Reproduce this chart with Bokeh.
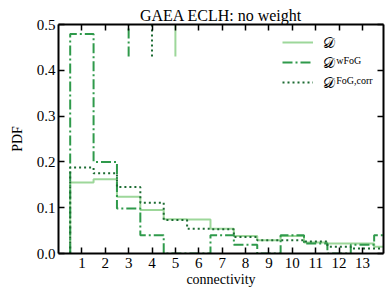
import numpy as np
from bokeh.plotting import figure
from bokeh.models import (Range1d, FixedTicker, PrintfTickFormatter, LinearAxis,
                          Legend, LegendItem, Label)
from bokeh.embed import file_html
from bokeh.resources import INLINE

# ---- data ----
connectivity = list(range(1, 15))
pdf_D = [0.155, 0.162, 0.124, 0.095, 0.075, 0.074, 0.054, 0.038, 0.029, 0.038, 0.024, 0.022, 0.022, 0.015]
pdf_wFoG = [0.479, 0.200, 0.098, 0.040, 0.0, 0.0, 0.040, 0.019, 0.0, 0.040, 0.022, 0.0, 0.019, 0.040]
pdf_FoGcorr = [0.188, 0.175, 0.145, 0.111, 0.073, 0.054, 0.053, 0.036, 0.029, 0.029, 0.026, 0.015, 0.011, 0.011]
marker_D = [5]
marker_wFoG = [3]
marker_FoGcorr = [4]
x_ticks = list(range(1, 14))
y_ticks = [0.0, 0.1, 0.2, 0.3, 0.4, 0.5]
title_text = "GAEA ECLH: no weight"
x_label = "connectivity"
y_label = "PDF"
legend_base = "\U0001D49F"
legend_supers = ["", "wFoG", "FoG,corr"]

col_D = "#9dd79a"
col_w = "#2f9a4b"
col_c = "#1c6b32"
SERIF = "Liberation Serif"

W, H = 389, 292
B_LEFT, B_RIGHT, B_TOP, B_BOTTOM = 58, 6, 24, 39
FH = H - B_TOP - B_BOTTOM
FW = W - B_LEFT - B_RIGHT


def step_xy(centers, vals):
    xs = [centers[0] - 0.5]
    ys = [0.0]
    for c, v in zip(centers, vals):
        xs += [c - 0.5, c + 0.5]
        ys += [v, v]
    xs.append(centers[-1] + 0.5)
    ys.append(0.0)
    return xs, ys


p = figure(width=W, height=H, x_range=Range1d(0, 13.9), y_range=Range1d(0, 0.5),
           output_backend="svg", toolbar_location=None, title=title_text,
           min_border_left=B_LEFT, min_border_right=B_RIGHT, min_border_top=B_TOP,
           min_border_bottom=B_BOTTOM)
p.grid.visible = False
p.outline_line_color = None
p.background_fill_color = "white"
p.border_fill_color = "white"

p.title.text_font = SERIF
p.title.text_font_size = "16px"
p.title.text_font_style = "normal"
p.title.text_color = "black"
p.title.align = "center"
p.title.standoff = 2

dash_w = "10 3 2 3"
dash_c = "2 3"

xs, ys = step_xy(connectivity, pdf_D)
rD = p.line(xs, ys, line_color=col_D, line_width=2)
xs, ys = step_xy(connectivity, pdf_wFoG)
rW = p.line(xs, ys, line_color=col_w, line_width=2, line_dash=dash_w)
xs, ys = step_xy(connectivity, pdf_FoGcorr)
rC = p.line(xs, ys, line_color=col_c, line_width=2, line_dash=dash_c)

p.segment(x0=marker_D, y0=[0.43], x1=marker_D, y1=[0.5], line_color=col_D, line_width=2)
p.segment(x0=marker_wFoG, y0=[0.43], x1=marker_wFoG, y1=[0.5], line_color=col_w, line_width=2,
          line_dash=dash_w)
p.segment(x0=marker_FoGcorr, y0=[0.43], x1=marker_FoGcorr, y1=[0.5], line_color=col_c,
          line_width=2, line_dash=dash_c)


def style_axis(ax, ticks, labels=True):
    ax.ticker = FixedTicker(ticks=ticks)
    ax.major_tick_in = 6
    ax.major_tick_out = 0
    ax.minor_tick_in = 0
    ax.minor_tick_out = 0
    ax.axis_line_width = 2
    ax.axis_line_color = "black"
    ax.major_tick_line_width = 1.5
    ax.major_tick_line_color = "black"
    ax.major_label_text_font = SERIF
    ax.major_label_text_color = "black"
    ax.major_label_text_font_size = "15px"
    ax.axis_label_text_font = SERIF
    ax.axis_label_text_font_style = "normal"
    ax.axis_label_text_font_size = "14px"
    ax.axis_label_text_color = "black"
    if not labels:
        ax.major_label_overrides = {t: "" for t in ticks}
        ax.major_label_standoff = 0


xa = p.xaxis[0]
style_axis(xa, x_ticks)
xa.axis_label = x_label
xa.major_label_standoff = 4
xa.axis_label_standoff = 1

ya = p.yaxis[0]
style_axis(ya, y_ticks)
ya.formatter = PrintfTickFormatter(format="%.1f")
ya.axis_label = y_label
ya.major_label_standoff = 3
ya.axis_label_standoff = 9

top = LinearAxis()
style_axis(top, x_ticks, labels=False)
p.add_layout(top, "above")
right = LinearAxis()
style_axis(right, y_ticks, labels=False)
right.formatter = PrintfTickFormatter(format="%.1f")
right.major_label_overrides = {t: "" for t in y_ticks}
p.add_layout(right, "right")

# legend: sample lines from Bokeh's Legend, label texts placed next to them
row_pitch = 20
legend = Legend(items=[LegendItem(label=" ", renderers=[rD]),
                       LegendItem(label=" ", renderers=[rW]),
                       LegendItem(label=" ", renderers=[rC])],
                location=(224, FH - 7.7 - 3 * row_pitch), padding=0, spacing=0, glyph_width=31,
                glyph_height=row_pitch, label_standoff=4, label_height=row_pitch,
                border_line_color=None, background_fill_alpha=0, label_text_font=SERIF,
                label_text_font_size="12px")
p.add_layout(legend)

for i, sup in enumerate(legend_supers):
    yc = FH - 17.7 - i * row_pitch
    p.add_layout(Label(x=264, y=yc - 1, x_units="screen", y_units="screen", text=legend_base,
                       text_font=SERIF, text_font_size="15px", text_baseline="middle",
                       text_color="black"))
    if sup:
        p.add_layout(Label(x=277.7, y=yc + 1.5, x_units="screen", y_units="screen", text=sup,
                           text_font=SERIF, text_font_size="10px", text_baseline="alphabetic",
                           text_color="black"))

open("out.html", "w").write(file_html(p, INLINE))
